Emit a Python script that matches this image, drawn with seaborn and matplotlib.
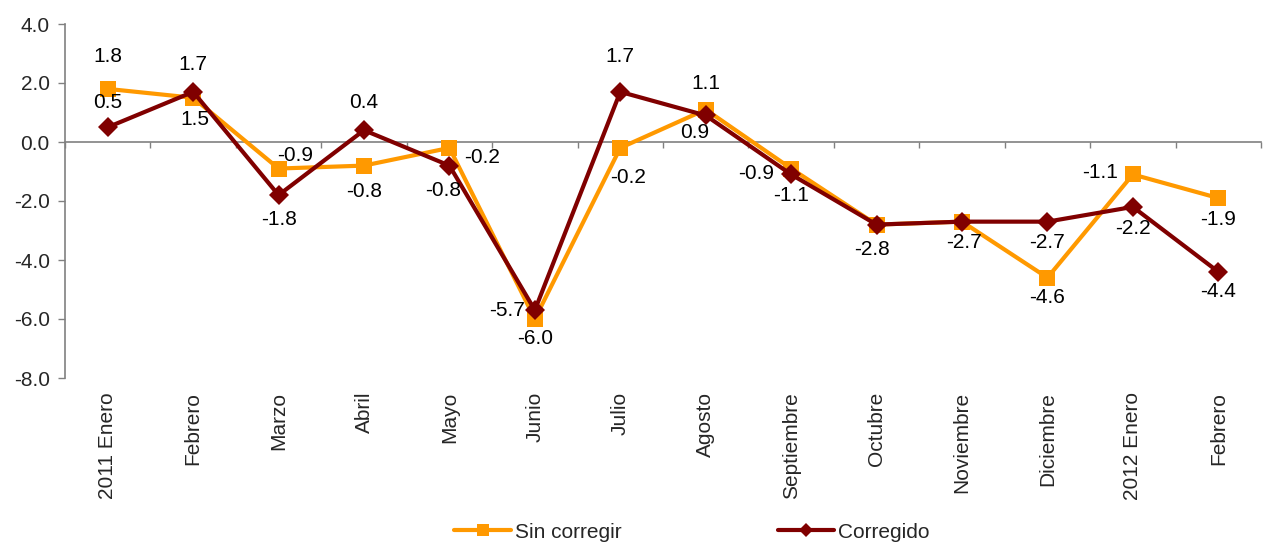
"""Variación mensual: serie sin corregir vs corregida (2011 Enero - 2012 Febrero)."""

import matplotlib

matplotlib.use("Agg")

import matplotlib.pyplot as plt  # noqa: E402
import matplotlib.ticker as mticker  # noqa: E402
import numpy as np  # noqa: E402
import pandas as pd  # noqa: E402
import seaborn as sns  # noqa: E402

meses = [
    "2011 Enero", "Febrero", "Marzo", "Abril", "Mayo", "Junio", "Julio",
    "Agosto", "Septiembre", "Octubre", "Noviembre", "Diciembre",
    "2012 Enero", "Febrero",
]
sin_corregir = [1.8, 1.5, -0.9, -0.8, -0.2, -6.0, -0.2, 1.1, -0.9, -2.8, -2.7, -4.6, -1.1, -1.9]
corregido = [0.5, 1.7, -1.8, 0.4, -0.8, -5.7, 1.7, 0.9, -1.1, -2.8, -2.7, -2.7, -2.2, -4.4]

# label placement (dx px, dy px, ha) per point
_LBL_SIN = [
    (0, -32, "center"), (2, 22, "center"), (17, -13, "center"), (0, 26, "center"),
    (15, 10, "left"), (0, 20, "center"), (8, 30, "center"), (0, -26, "center"),
    (-17, 5, "right"), (-5, 25, "center"), (2, 21, "center"), (0, 20, "center"),
    (-15, -2, "right"), (0, 21, "center"),
]
_LBL_COR = [
    (0, -25, "center"), (0, -27, "center"), (0, 24, "center"), (0, -28, "center"),
    (-6, 25, "center"), (-10, 0, "right"), (0, -35, "center"), (-11, 17, "center"),
    (0, 21, "center"), (-5, 25, "center"), (2, 21, "center"), (0, 21, "center"),
    (0, 22, "center"), (0, 20, "center"),
]

ORANGE = "#FF9900"
DARKRED = "#800000"
GREY = "#808080"
FS = 15

sns.set_style("white")
plt.rcParams["font.family"] = ["Liberation Sans", "DejaVu Sans"]

df = pd.DataFrame({
    "pos": np.arange(len(meses)),
    "Sin corregir": sin_corregir,
    "Corregido": corregido,
})

fig = plt.figure(figsize=(12.66, 5.43), dpi=100)
ax = fig.add_axes([65 / 1266, 1 - 378 / 543, 1196 / 1266, 354 / 543])

sns.lineplot(data=df, x="pos", y="Sin corregir", ax=ax, color=ORANGE, linewidth=3,
             marker="s", markersize=11.5, markeredgewidth=0, label="Sin corregir", zorder=3)
sns.lineplot(data=df, x="pos", y="Corregido", ax=ax, color=DARKRED, linewidth=3,
             marker="D", markersize=10.5, markeredgewidth=0, label="Corregido", zorder=4)

px = 72 / 100
drawn = set()
for col, specs in (("Sin corregir", _LBL_SIN), ("Corregido", _LBL_COR)):
    for x, y, (dx, dy, ha) in zip(df["pos"], df[col], specs):
        key = (x, f"{y:.1f}", dx, dy)
        if key in drawn:  # identical label already there
            continue
        drawn.add(key)
        ax.annotate(f"{y:.1f}", (x, y), xytext=(dx * px, -dy * px), textcoords="offset points",
                    ha=ha, va="center", fontsize=FS, color="black", zorder=5)

ax.set_xlim(-0.5, len(meses) - 0.5)
ax.set_ylim(-8, 4)
ax.yaxis.set_major_locator(mticker.MultipleLocator(2))
ax.yaxis.set_major_formatter(mticker.FormatStrFormatter("%.1f"))
ax.set_xticks(df["pos"])
ax.set_xticklabels(meses, rotation=90, ha="center", va="top")
ax.set_xlabel("")
ax.set_ylabel("")
ax.tick_params(axis="x", length=0, pad=10, labelsize=FS)
ax.tick_params(axis="y", length=5, width=1, color=GREY, pad=6, labelsize=FS, left=True)

for side in ("top", "right", "bottom"):
    ax.spines[side].set_visible(False)
ax.spines["left"].set_color(GREY)
ax.spines["left"].set_linewidth(1.2)

# category axis drawn at y = 0
secax = ax.secondary_xaxis((0 - (-8)) / 12)
secax.set_xticks(np.arange(-0.5, len(meses) + 0.5, 1.0))
secax.set_xticklabels([])
secax.tick_params(direction="in", length=4, width=1, color=GREY)
for sp in secax.spines.values():
    sp.set_color(GREY)
    sp.set_linewidth(1.2)
secax.set_zorder(1)

ax.get_legend().remove()
handles, labels = ax.get_legend_handles_labels()
leg = fig.legend(handles, labels, loc="center", bbox_to_anchor=(692 / 1266, 1 - 532 / 543), ncol=2,
                 frameon=False, fontsize=FS, handlelength=2.7, handletextpad=0.2,
                 columnspacing=7.5, borderaxespad=0)
for h, ms in zip(leg.legend_handles, (8.5, 6.8)):
    h.set_markersize(ms)

fig.savefig("out.png", dpi=100)
